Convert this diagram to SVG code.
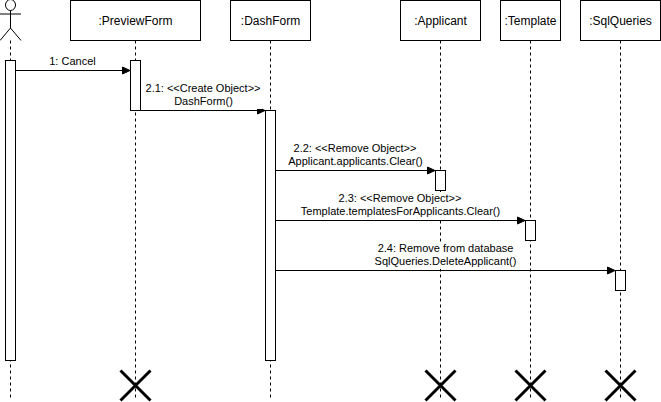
<svg xmlns="http://www.w3.org/2000/svg" width="661" height="402" viewBox="0 0 661 402">
<defs>
<style>
.box{fill:#fff;stroke:#000;stroke-width:1}
.life{fill:none;stroke:#000;stroke-width:1;stroke-dasharray:3 3}
.msg{fill:none;stroke:#000;stroke-width:1}
.x{fill:none;stroke:#000;stroke-width:3}
.head{fill:#000;stroke:#000;stroke-width:1}
.bg{fill:#fff;stroke:none}
text{font-family:"Liberation Sans",Arial,sans-serif;font-size:11px;fill:#000;text-anchor:middle}
.t12{font-size:12px}
</style>
</defs>
<rect width="661" height="402" fill="#fff"/>
<g id="lifelines">
<path class="life" d="M10.5 40.5V398"/>
<path class="life" d="M135.5 40.5V398"/>
<path class="life" d="M270.5 40.5V398"/>
<path class="life" d="M440.5 40.5V398"/>
<path class="life" d="M530.5 40.5V398"/>
<path class="life" d="M620.5 40.5V398"/>
</g>
<g id="actor"><g fill="#fff" stroke="#000"><ellipse cx="10.5" cy="5" rx="5" ry="5.500"/><path d="M10.5 10.500V28M0 14H21M10.5 28L0 40.500M10.5 28L21 40.500" fill="none"/></g></g>
<g id="previewform"><rect class="box" x="70.5" y="0.5" width="130" height="40"/><text class="t12" x="135.5" y="24.500">:PreviewForm</text>
<rect class="box" x="130.5" y="60.5" width="10" height="50"/></g>
<g id="dashform"><rect class="box" x="230.5" y="0.5" width="80" height="40"/><text class="t12" x="270.5" y="24.500">:DashForm</text>
<rect class="box" x="265.5" y="110.5" width="10" height="250"/></g>
<g id="applicant"><rect class="box" x="400.5" y="0.5" width="80" height="40"/><text class="t12" x="440.5" y="24.500">:Applicant</text>
<rect class="box" x="435.5" y="170.5" width="10" height="20"/></g>
<g id="template"><rect class="box" x="500.5" y="0.5" width="60" height="40"/><text class="t12" x="530.5" y="24.500">:Template</text>
<rect class="box" x="525.5" y="220.5" width="10" height="20"/></g>
<g id="sqlqueries"><rect class="box" x="580.5" y="0.5" width="80" height="40"/><text class="t12" x="620.5" y="24.500">:SqlQueries</text>
<rect class="box" x="615.5" y="270.5" width="10" height="20"/></g>
<g id="actor-activation"><rect class="box" x="5.5" y="60.5" width="10" height="300"/></g>
<g id="connectors">
<path class="msg" d="M15.5 70.5H123"/><path class="head" d="M130 70.5L122.500 74V67Z"/>
<path class="msg" d="M140.500 110.500H258"/><path class="head" d="M265 110.500L257.500 114V107Z"/>
<path class="msg" d="M275.500 170.500H428"/><path class="head" d="M435 170.500L427.500 174V167Z"/>
<path class="msg" d="M275.500 220.500H518"/><path class="head" d="M525 220.500L517.500 224V217Z"/>
<path class="msg" d="M275.500 270.500H608"/><path class="head" d="M615 270.500L607.500 274V267Z"/>
</g>
<g id="labels">
<text x="72.500" y="65">1: Cancel</text>
<rect class="bg" x="145" y="82" width="117" height="27"/>
<text x="203" y="92">2.1: &lt;&lt;Create Object&gt;&gt;</text><text x="203.500" y="105">DashForm()</text>
<text x="355" y="152">2.2: &lt;&lt;Remove Object&gt;&gt;</text><text x="355.500" y="165">Applicant.applicants.Clear()</text>
<rect class="bg" x="300" y="192" width="201" height="27"/>
<text x="400" y="202">2.3: &lt;&lt;Remove Object&gt;&gt;</text><text x="400.500" y="215">Template.templatesForApplicants.Clear()</text>
<rect class="bg" x="374" y="242" width="144" height="27"/>
<text x="445.500" y="252">2.4: Remove from database</text><text x="445.500" y="265">SqlQueries.DeleteApplicant()</text>
</g>
<g id="destroy">
<path class="x" d="M120.500 370.500L150.500 400.500M150.500 370.500L120.500 400.500"/>
<path class="x" d="M425.500 370.500L455.500 400.500M455.500 370.500L425.500 400.500"/>
<path class="x" d="M515.500 370.500L545.500 400.500M545.500 370.500L515.500 400.500"/>
<path class="x" d="M605.500 370.500L635.500 400.500M635.500 370.500L605.500 400.500"/>
</g>
</svg>
